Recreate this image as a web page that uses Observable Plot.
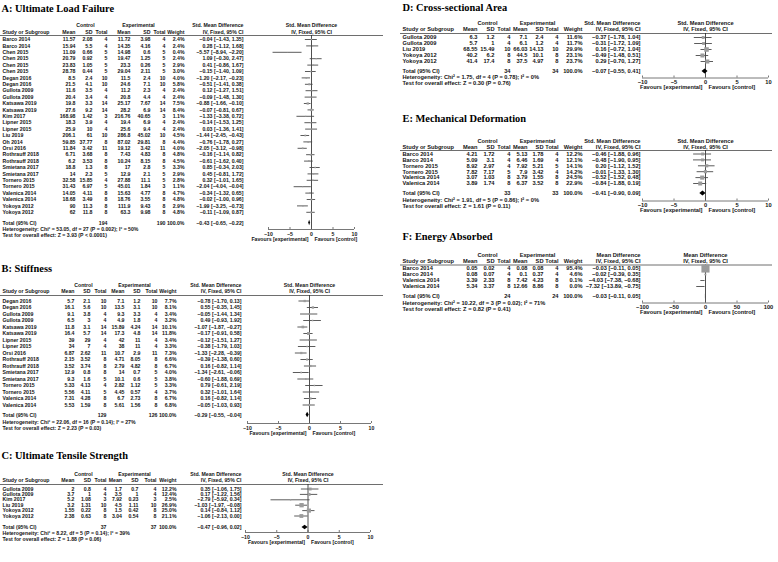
<!DOCTYPE html>
<html><head><meta charset="utf-8">
<script src="https://cdn.jsdelivr.net/npm/d3@7"></script>
<script src="https://cdn.jsdelivr.net/npm/@observablehq/plot@0.6"></script>
<style>
html,body{margin:0;padding:0;background:#fff;}
#page{position:relative;width:778px;height:562px;overflow:hidden;background:#fff;}
</style></head><body><div id="page"></div>
<script>
// ---------------- DATA ----------------
// A: Ultimate Load Failure
const studiesA = ["Barco 2014","Barco 2014","Chen 2015","Chen 2015","Chen 2015","Chen 2015","Degan 2016","Degan 2016","Gullota 2009","Gullota 2009","Katsawa 2019","Katsawa 2019","Kim 2017","Lipner 2015","Lipner 2015","Liu 2019","Oh 2014","Orsi 2016","Rothrauff 2018","Rothrauff 2018","Smietana 2017","Smietana 2017","Tornero 2015","Tornero 2015","Valenica 2014","Valenica 2014","Yokoya 2012","Yokoya 2012"];
const controlA = [[11.57,2.08,4],[15.94,5.5,4],[11.09,0.66,5],[20.79,0.92,5],[23.83,1.05,5],[28.78,0.44,5],[8.5,2.4,10],[21.5,4.1,10],[11.6,3.5,4],[20.4,3.4,4],[19.8,3.3,14],[27.6,9.2,14],[168.98,1.42,3],[18.3,3.9,4],[25.9,10,4],[206.1,61,10],[59.85,37.77,8],[11.84,3.42,11],[6.71,3.68,8],[6.2,3.53,8],[18.8,1.3,8],[14,2.3,5],[32.58,15.85,4],[31.43,6.97,5],[14.05,4.11,8],[18.68,3.49,8],[90,11.3,8],[62,11.8,8]];
const experimentalA = [[11.72,3.98,4],[14.35,4.16,4],[14.98,0.6,5],[19.47,1.25,5],[23.3,0.26,5],[29.04,2.11,5],[11.5,2.4,10],[24.6,7.1,10],[11.2,2.3,4],[20.8,4.4,4],[25.17,7.67,14],[28.2,6.9,14],[216.76,40.65,3],[19.4,6.9,4],[25.6,9.4,4],[286.8,45.02,10],[87.02,29.81,8],[19.12,3.42,11],[7.43,4.83,8],[10.24,8.15,8],[17,2.8,5],[12.9,2.1,5],[27.88,11.1,5],[45.01,1.84,3],[15.63,4.77,8],[18.76,3.55,8],[111.9,9.43,8],[63.3,9.98,8]];
const weightA = [2.4,2.4,0.4,2.4,2.9,3.0,4.0,5.8,2.4,2.4,7.5,8.4,1.1,2.4,2.4,4.5,4.4,4.0,4.8,4.5,3.3,2.9,2.8,1.1,4.7,4.8,2.9,4.8];
const effectA = [[-0.04,-1.43,1.35],[0.28,-1.12,1.68],[-5.57,-8.94,-2.20],[1.09,-0.30,2.47],[0.41,-0.86,1.67],[-0.15,-1.40,1.09],[-1.20,-2.17,-0.23],[-0.51,-1.41,0.38],[0.12,-1.27,1.51],[-0.09,-1.48,1.30],[-0.88,-1.66,-0.10],[-0.07,-0.81,0.67],[-1.33,-3.38,0.72],[-0.14,-1.53,1.25],[0.03,-1.36,1.41],[-1.44,-2.45,-0.43],[-0.76,-1.78,0.27],[-2.05,-3.12,-0.98],[-0.16,-1.14,0.82],[-0.61,-1.62,0.40],[0.85,-0.34,2.03],[0.45,-0.81,1.72],[0.32,-1.01,1.65],[-2.04,-4.04,-0.04],[-0.34,-1.32,0.65],[-0.02,-1.00,0.96],[-1.99,-3.25,-0.73],[-0.11,-1.09,0.87]];
const totalA = [194,190,-0.43,-0.65,-0.22];
const hetA = "Heterogeneity: Chi\u00b2 = 53.05, df = 27 (P = 0.002); I\u00b2 = 50%";
const testA = "Test for overall effect: Z = 3.93 (P < 0.0001)";

// B: Stiffness
const studiesB = ["Degan 2016","Degan 2016","Gullota 2009","Gullota 2009","Katsawa 2019","Katsawa 2019","Lipner 2015","Lipner 2015","Orsi 2016","Rothrauff 2018","Rothrauff 2018","Smietana 2017","Smietana 2017","Tornero 2015","Tornero 2015","Valenica 2014","Valenica 2014"];
const controlB = [[5.7,2.1,10],[16.1,5.6,10],[9.1,3.8,4],[6.5,3,4],[11.8,3.1,14],[16.4,5.7,14],[39,29,4],[34,7,4],[6.87,2.62,11],[2.15,3.52,8],[3.52,3.74,8],[12.9,0.8,8],[9.3,1.6,5],[5.33,4.13,4],[5.56,4.11,5],[7.31,4.28,8],[5.53,1.59,8]];
const experimentalB = [[7.1,1.2,10],[13.5,3.1,10],[9.3,3.3,4],[4.9,1.8,4],[15.89,4.24,14],[17.3,4.8,14],[42,11,4],[38,11,4],[10.7,2.9,11],[4.71,8.05,8],[2.79,4.82,8],[14,0.7,5],[10.1,0.6,5],[2.82,1.12,5],[4.45,0.57,4],[6.7,2.73,8],[5.61,1.56,8]];
const weightB = [7.7,8.1,3.4,3.2,10.1,11.8,3.4,3.3,7.3,6.6,6.7,4.0,3.8,3.3,3.7,6.7,6.8];
const effectB = [[-0.78,-1.70,0.13],[0.55,-0.35,1.45],[-0.05,-1.44,1.34],[0.49,-0.93,1.92],[-1.07,-1.87,-0.27],[-0.17,-0.91,0.58],[-0.12,-1.51,1.27],[-0.38,-1.79,1.03],[-1.33,-2.28,-0.39],[-0.39,-1.38,0.60],[0.16,-0.82,1.14],[-1.34,-2.61,-0.06],[-0.60,-1.88,0.69],[0.79,-0.61,2.19],[0.32,-1.01,1.64],[0.16,-0.82,1.14],[-0.05,-1.03,0.93]];
const totalB = [129,126,-0.29,-0.55,-0.04];
const hetB = "Heterogeneity: Chi\u00b2 = 22.06, df = 16 (P = 0.14); I\u00b2 = 27%";
const testB = "Test for overall effect: Z = 2.23 (P = 0.03)";

// C: Ultimate Tensile Strength
const studiesC = ["Gullota 2009","Gullota 2009","Kim 2017","Liu 2019","Yokoya 2012","Yokoya 2012"];
const controlC = [[2,0.8,4],[3.7,1,4],[5.2,1.08,3],[3.2,1.31,10],[1.55,0.22,8],[2.38,0.63,8]];
const experimentalC = [[1.7,0.7,4],[3.5,1,4],[7.92,0.23,3],[4.5,1.11,10],[1.5,0.42,8],[3.04,0.54,8]];
const weightC = [12.2,12.4,2.5,26.9,25.0,21.1];
const effectC = [[0.35,-1.06,1.75],[0.17,-1.22,1.56],[-2.79,-5.92,0.34],[-1.03,-1.97,-0.08],[0.14,-0.84,1.12],[-1.06,-2.13,0.00]];
const totalC = [37,37,-0.47,-0.96,0.02];
const hetC = "Heterogeneity: Chi\u00b2 = 8.22, df = 5 (P = 0.14); I\u00b2 = 39%";
const testC = "Test for overall effect: Z = 1.88 (P = 0.06)";

// D: Cross-sectional Area
const studiesD = ["Gullota 2009","Gullota 2009","Liu 2019","Yokoya 2012","Yokoya 2012"];
const controlD = [[6.3,1.2,4],[5.7,1,4],[68.55,15.49,10],[40.2,6.2,8],[41.4,17.4,8]];
const experimentalD = [[7.1,2.4,4],[6.1,1.2,4],[66.03,14.13,10],[44.5,10.1,8],[37.5,4.97,8]];
const weightD = [11.6,11.7,29.9,23.1,23.7];
const effectD = [[-0.37,-1.78,1.04],[-0.31,-1.72,1.09],[0.16,-0.72,1.04],[-0.49,-1.48,0.51],[0.29,-0.70,1.27]];
const totalD = [34,34,-0.07,-0.55,0.41];
const hetD = "Heterogeneity: Chi\u00b2 = 1.75, df = 4 (P = 0.78); I\u00b2 = 0%";
const testD = "Test for overall effect: Z = 0.30 (P = 0.76)";

// E: Mechanical Deformation
const studiesE = ["Barco 2014","Barco 2014","Tornero 2015","Tornero 2015","Valenica 2014","Valenica 2014"];
const controlE = [[4.21,1.72,4],[5.09,3.1,4],[8.92,2.97,4],[7.82,7.17,5],[3.07,1.03,8],[3.89,1.74,8]];
const experimentalE = [[5.13,1.78,4],[6.46,1.69,4],[7.92,5.21,5],[7.9,3.42,4],[3.79,1.55,8],[6.37,3.52,8]];
const weightE = [12.2,12.1,14.1,14.2,24.5,22.9];
const effectE = [[-0.46,-1.88,0.96],[-0.48,-1.90,0.95],[0.20,-1.12,1.52],[-0.01,-1.33,1.30],[-0.52,-1.52,0.48],[-0.84,-1.88,0.19]];
const totalE = [33,33,-0.41,-0.90,0.09];
const hetE = "Heterogeneity: Chi\u00b2 = 1.91, df = 5 (P = 0.86); I\u00b2 = 0%";
const testE = "Test for overall effect: Z = 1.61 (P = 0.11)";

// F: Energy Absorbed
const studiesF = ["Barco 2014","Barco 2014","Valenica 2014","Valenica 2014"];
const controlF = [[0.05,0.02,4],[0.08,0.07,4],[3.39,2.33,8],[5.34,3.37,8]];
const experimentalF = [[0.08,0.08,4],[0.1,0.37,4],[7.42,4.23,8],[12.66,8.86,8]];
const weightF = [95.4,4.6,0.1,0.0];
const effectF = [[-0.03,-0.11,0.05],[-0.02,-0.39,0.35],[-4.03,-7.38,-0.68],[-7.32,-13.89,-0.75]];
const totalF = [24,24,-0.03,-0.11,0.05];
const hetF = "Heterogeneity: Chi\u00b2 = 10.22, df = 3 (P = 0.02); I\u00b2 = 71%";
const testF = "Test for overall effect: Z = 0.82 (P = 0.41)";

const ticksSMD = [-10,-5,0,5,10];
const ticksMD = [-100,-50,0,50,100];
const titles = ["A: Ultimate Load Failure","B: Stiffness","C: Ultimate Tensile Strength","D: Cross-sectional Area","E: Mechanical Deformation","F: Energy Absorbed"];
const measureSMD = "Std. Mean Difference";
const measureMD = "Mean Difference";
const methodLabel = "IV, Fixed, 95% CI";

// ---------------- LAYOUT (page pixels) ----------------
const colsLeftA = {study:2, cMean:75, cSD:92, cN:107, eMean:130, eSD:150, eN:165, w:184, ci:243, ctrl:85, exp:138};
const colsLeftB = {study:2, cMean:74, cSD:90, cN:106, eMean:124, eSD:140, eN:157, w:176, ci:241, ctrl:83, exp:134};
const colsLeftC = {study:2, cMean:74, cSD:90.5, cN:106, eMean:121.5, eSD:138, eN:156, w:176, ci:241, ctrl:83, exp:134};
const colsRight = {study:402, cMean:477, cSD:494, cN:510, eMean:527, eSD:543, eN:558, w:582, ci:640, ctrl:487, exp:537};

const layouts = [
  {left:0, top:0, w:383, h:248, fs:5.2, cols:colsLeftA, x:[268,354], titleX:1, titleY:8,
   yCtrl:25, yCol:31.5, yLine:35, first:39, rowH:6.4, yTotal:222.5, yHet:229, yTest:235, yAxis:229, yTick:233.5, yFav:238.5},
  {left:0, top:248, w:383, h:192, fs:5.2, cols:colsLeftB, x:[247,371], titleX:1, titleY:268,
   yCtrl:285, yCol:291, yLine:295, first:300.5, rowH:6.5, yTotal:414.5, yHet:421.5, yTest:427.5, yAxis:423, yTick:427.5, yFav:432.5},
  {left:0, top:440, w:383, h:122, fs:5.2, cols:colsLeftC, x:[245,370], titleX:1, titleY:455,
   yCtrl:474, yCol:480, yLine:484, first:488.5, rowH:5.4, yTotal:527, yHet:533, yTest:539, yAxis:532, yTick:536.5, yFav:541.5},
  {left:400, top:0, w:372, h:100, fs:5.7, cols:colsRight, x:[642,768], titleX:402, titleY:7,
   yCtrl:23, yCol:29, yLine:33, first:37, rowH:6, yTotal:71, yHet:77, yTest:83, yAxis:77.5, yTick:82, yFav:87},
  {left:400, top:100, w:372, h:122, fs:5.7, cols:colsRight, x:[642,768], titleX:402, titleY:118,
   yCtrl:141, yCol:146.5, yLine:150, first:153.5, rowH:5.9, yTotal:193, yHet:200, yTest:206, yAxis:200.5, yTick:205, yFav:210},
  {left:400, top:222, w:372, h:100, fs:5.7, cols:colsRight, x:[642,768], titleX:402, titleY:236,
   yCtrl:255, yCol:261, yLine:264.5, first:268, rowH:6, yTotal:296, yHet:303, yTest:309, yAxis:302.5, yTick:307, yFav:312}
];

const datasets = [
  {title:titles[0], measure:measureSMD, studies:studiesA, control:controlA, exp:experimentalA, weight:weightA, effect:effectA, total:totalA, het:hetA, test:testA, ticks:ticksSMD},
  {title:titles[1], measure:measureSMD, studies:studiesB, control:controlB, exp:experimentalB, weight:weightB, effect:effectB, total:totalB, het:hetB, test:testB, ticks:ticksSMD},
  {title:titles[2], measure:measureSMD, studies:studiesC, control:controlC, exp:experimentalC, weight:weightC, effect:effectC, total:totalC, het:hetC, test:testC, ticks:ticksSMD},
  {title:titles[3], measure:measureSMD, studies:studiesD, control:controlD, exp:experimentalD, weight:weightD, effect:effectD, total:totalD, het:hetD, test:testD, ticks:ticksSMD},
  {title:titles[4], measure:measureSMD, studies:studiesE, control:controlE, exp:experimentalE, weight:weightE, effect:effectE, total:totalE, het:hetE, test:testE, ticks:ticksSMD},
  {title:titles[5], measure:measureMD, studies:studiesF, control:controlF, exp:experimentalF, weight:weightF, effect:effectF, total:totalF, het:hetF, test:testF, ticks:ticksMD}
];

// ---------------- HELPERS ----------------
const MINUS = "\u2212";
const fmtSigned = v => (v < 0 ? MINUS : "") + Math.abs(v).toFixed(2);
const fmtCI = (e, l, h) => `${fmtSigned(e)} [${fmtSigned(l)}, ${fmtSigned(h)}]`;
const fmtW = w => w.toFixed(1) + "%";
const fmtTick = t => (t < 0 ? MINUS : "") + Math.abs(t);
const FONT = "'Liberation Sans', Arial, Helvetica, sans-serif";
const SERIF = "'Liberation Serif', 'Times New Roman', serif";

function drawPanel(L, D) {
  const n = D.studies.length;
  const C = L.cols;
  const toRow = py => (py - L.first) / L.rowH;
  const lx = px => px - L.left;
  const rows = D.studies.map((s, i) => ({
    i, study: s,
    cm: String(D.control[i][0]), cs: String(D.control[i][1]), cn: String(D.control[i][2]),
    em: String(D.exp[i][0]), es: String(D.exp[i][1]), en: String(D.exp[i][2]),
    w: D.weight[i], wt: fmtW(D.weight[i]),
    est: D.effect[i][0], lo: D.effect[i][1], hi: D.effect[i][2],
    ci: fmtCI(D.effect[i][0], D.effect[i][1], D.effect[i][2])
  }));
  const ink = "#141414";
  const base = {frameAnchor: "left", fontSize: L.fs, fontWeight: "bold", fill: ink, lineAnchor: "middle"};
  const colText = (field, xpx, anchor) => Plot.text(rows, {...base, y: "i", text: field, dx: lx(xpx), textAnchor: anchor});
  const label = (str, py, xpx, anchor, extra = {}) =>
    Plot.text([str], {...base, y: () => toRow(py), text: d => d, dx: lx(xpx), textAnchor: anchor, ...extra});
  const fLabel = (str, xv, py, anchor, dxv = 0) =>
    Plot.text([str], {fontSize: L.fs, fontWeight: "bold", fill: ink, lineAnchor: "middle", x: () => xv, y: () => toRow(py), text: d => d, textAnchor: anchor, dx: dxv});

  const rT = toRow(L.yTotal);
  const [tN1, tN2, tE, tL, tH] = D.total;
  const diamond = [{x: tL, y1: rT, y2: rT}, {x: tE, y1: rT - 0.42, y2: rT + 0.42}, {x: tH, y1: rT, y2: rT}];
  const tMin = d3.min(D.ticks), tMax = d3.max(D.ticks);
  const rAxis = toRow(L.yAxis);

  return Plot.plot({
    width: L.w, height: L.h,
    marginTop: 0, marginRight: 0, marginBottom: 0, marginLeft: 0,
    style: {background: "transparent", overflow: "visible", fontFamily: FONT},
    x: {domain: [tMin, tMax], range: [L.x[0] - L.left, L.x[1] - L.left], axis: null},
    y: {type: "linear", domain: [0, n - 1], range: [L.first - L.top, L.first - L.top + (n - 1) * L.rowH], axis: null},
    r: {type: "sqrt", domain: [0, 100], range: [0, 4.7]},
    marks: [
      label(D.title, L.titleY, L.titleX, "start", {fontFamily: SERIF, fontSize: 10.4, fill: "#000"}),
      label("Control", L.yCtrl, C.ctrl, "middle"),
      label("Experimental", L.yCtrl, C.exp, "middle"),
      label(D.measure, L.yCtrl, C.ci, "end"),
      label("Study or Subgroup", L.yCol, C.study, "start"),
      label("Mean", L.yCol, C.cMean, "end"),
      label("SD", L.yCol, C.cSD, "end"),
      label("Total", L.yCol, C.cN, "end"),
      label("Mean", L.yCol, C.eMean, "end"),
      label("SD", L.yCol, C.eSD, "end"),
      label("Total", L.yCol, C.eN, "end"),
      label("Weight", L.yCol, C.w, "end"),
      label(methodLabel, L.yCol, C.ci, "end"),
      fLabel(D.measure, 0, L.yCtrl, "middle"),
      fLabel(methodLabel, 0, L.yCol, "middle"),
      Plot.ruleY([toRow(L.yLine)], {stroke: "#6e6e6e", strokeWidth: 1}),
      colText("study", C.study, "start"),
      colText("cm", C.cMean, "end"),
      colText("cs", C.cSD, "end"),
      colText("cn", C.cN, "end"),
      colText("em", C.eMean, "end"),
      colText("es", C.eSD, "end"),
      colText("en", C.eN, "end"),
      colText("wt", C.w, "end"),
      colText("ci", C.ci, "end"),
      label("Total (95% CI)", L.yTotal, C.study, "start"),
      label(String(tN1), L.yTotal, C.cN, "end"),
      label(String(tN2), L.yTotal, C.eN, "end"),
      label(fmtW(100), L.yTotal, C.w, "end"),
      label(fmtCI(tE, tL, tH), L.yTotal, C.ci, "end"),
      label(D.het, L.yHet, C.study, "start"),
      label(D.test, L.yTest, C.study, "start"),
      Plot.ruleX([0], {y1: () => toRow(L.yLine), y2: () => rAxis, stroke: "#222", strokeWidth: 0.8}),
      Plot.ruleY(rows, {y: "i", x1: "lo", x2: "hi", stroke: "#4a4a4a", strokeWidth: 0.9}),
      Plot.dot(rows, {x: "est", y: "i", r: "w", symbol: "square", fill: "#9b9b9b", stroke: "none"}),
      Plot.areaY(diamond, {x: "x", y1: "y1", y2: "y2", fill: "#000"}),
      Plot.ruleY([rAxis], {x1: () => tMin, x2: () => tMax, stroke: "#555", strokeWidth: 0.8}),
      Plot.ruleX(D.ticks, {x: d => d, y1: () => rAxis - 2 / L.rowH, y2: () => rAxis, stroke: "#555", strokeWidth: 0.8}),
      Plot.text(D.ticks, {x: d => d, y: () => toRow(L.yTick), text: fmtTick, fontSize: L.fs, fontWeight: "bold", fill: ink, lineAnchor: "middle"}),
      fLabel("Favours [experimental]", 0, L.yFav, "end", -3),
      fLabel("Favours [control]", 0, L.yFav, "start", 3)
    ]
  });
}

const page = document.getElementById("page");
layouts.forEach((L, k) => {
  const wrap = document.createElement("div");
  wrap.style.cssText = `position:absolute;left:${L.left}px;top:${L.top}px;width:${L.w}px;height:${L.h}px;`;
  wrap.appendChild(drawPanel(L, datasets[k]));
  page.appendChild(wrap);
});
</script>
</body></html>
